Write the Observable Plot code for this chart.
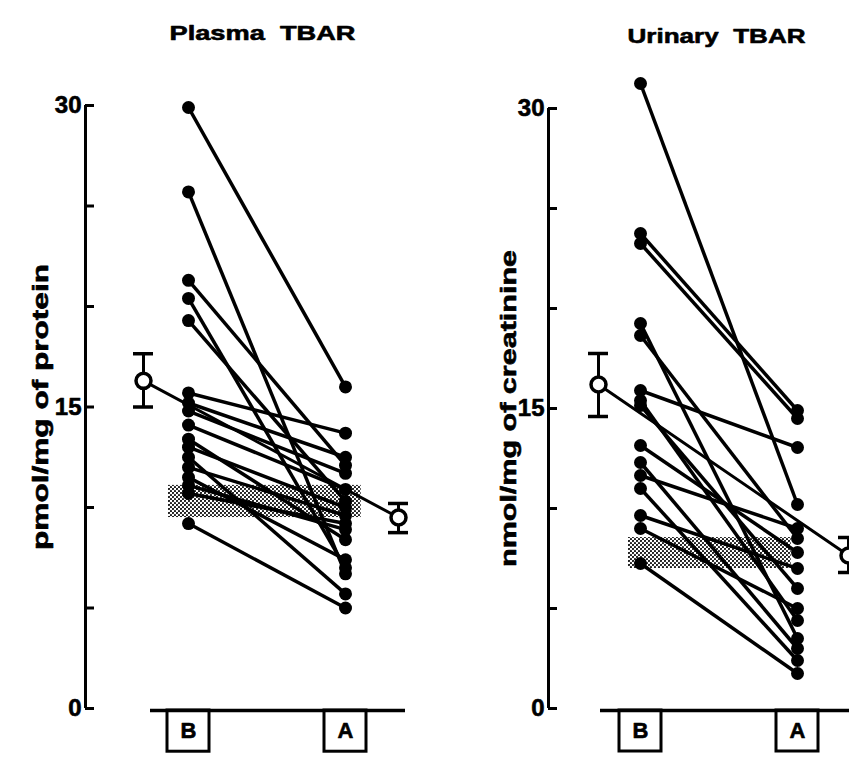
<!DOCTYPE html>
<html><head><meta charset="utf-8">
<script src="https://cdn.jsdelivr.net/npm/d3@7"></script>
<script src="https://cdn.jsdelivr.net/npm/@observablehq/plot@0.6"></script>
<style>
body{margin:0;background:#fff;}
#root{position:relative;width:849px;height:761px;overflow:hidden;background:#fff;}
#root svg{position:absolute;top:0;overflow:hidden;}
</style></head><body><div id="root"></div>
<script>
// ---- data ----
const phases = ["B", "A"];
const plasmaBefore = [29.9, 25.7, 21.3, 20.4, 19.3, 15.7, 15.2, 14.8, 14.1, 13.4, 13.0, 12.5, 12.0, 11.5, 11.1, 10.7, 9.2];
const plasmaAfter  = [16.0, 6.7, 12.1, 7.0, 10.3, 13.7, 12.5, 11.7, 10.9, 8.4, 10.0, 5.7, 9.6, 7.4, 8.9, 9.2, 5.0];
const plasmaMean   = [16.3, 9.5];
const plasmaLow    = [15.0, 8.75];
const plasmaHigh   = [17.65, 10.2];
const plasmaNormal = [9.5, 11.1];

const urinaryBefore = [31.25, 23.75, 23.25, 19.25, 18.65, 15.9, 15.4, 15.15, 13.15, 12.3, 11.65, 11.0, 9.65, 9.0, 7.25];
const urinaryAfter  = [10.2, 14.9, 14.5, 3.5, 8.5, 13.05, 4.4, 6.0, 7.8, 3.0, 9.0, 2.4, 7.0, 5.0, 1.75];
const urinaryMean   = [16.2, 7.65];
const urinaryLow    = [14.6, 6.8];
const urinaryHigh   = [17.75, 8.55];
const urinaryNormal = [7.0, 8.55];

const yTicks  = [0, 5, 10, 15, 20, 25, 30];
const yLabels = [0, 15, 30];
const titles  = ["Plasma  TBAR", "Urinary  TBAR"];
const yTitles = ["pmol/mg of protein", "nmol/mg of creatinine"];

// ---- layout ----
const FONT = "'Liberation Sans', Arial, Helvetica, sans-serif";
const pos = {B: 0, A: 1};
const PX = 157; // pixels between B and A
const heavy = {fontWeight: "bold", fill: "black", stroke: "black", strokeWidth: 0.6};

function panel(cfg) {
  const subjects = cfg.before.map((b, i) => ({b, a: cfg.after[i]}));
  const points = subjects.flatMap(d => [{x: pos.B, y: d.b}, {x: pos.A, y: d.a}]);
  const means = phases.map((p, i) => ({x: cfg.meanX[i], y: cfg.mean[i], lo: cfg.low[i], hi: cfg.high[i]}));
  const caps = means.flatMap(d => [d.lo, d.hi].map(v => ({y: v, x1: d.x - 10 / PX, x2: d.x + 10 / PX})));
  const ax = cfg.axisX;
  const base = -0.1;
  const boxH = 2.05;
  const hw = 21 / PX;

  const svg = Plot.plot({
    width: cfg.width,
    height: 761,
    marginTop: cfg.marginTop,
    marginBottom: 53,
    marginLeft: 0,
    marginRight: 0,
    x: {domain: [0, 1], range: [cfg.bx, cfg.bx + PX], axis: null},
    y: {domain: [0, 30], axis: null},
    style: {fontFamily: FONT, background: "white", color: "black"},
    marks: [
      Plot.rect([cfg.normal], {x1: cfg.bandX[0], x2: cfg.bandX[1], y1: d => d[0], y2: d => d[1], fill: `url(#${cfg.id})`}),
      Plot.line(means, {x: "x", y: "y", stroke: "black", strokeWidth: 3}),
      Plot.link(subjects, {x1: () => pos.B, x2: () => pos.A, y1: "b", y2: "a", stroke: "black", strokeWidth: 3.5}),
      Plot.dot(points, {x: "x", y: "y", r: 6.5, fill: "black", stroke: "none"}),
      Plot.ruleX(means, {x: "x", y1: "lo", y2: "hi", stroke: "black", strokeWidth: 3}),
      Plot.ruleY(caps, {y: "y", x1: "x1", x2: "x2", stroke: "black", strokeWidth: 3.5}),
      Plot.dot(means, {x: "x", y: "y", r: 7.5, fill: "white", stroke: "black", strokeWidth: 3.5}),
      // y axis
      Plot.ruleX([ax], {y1: 0, y2: 30, stroke: "black", strokeWidth: 3}),
      Plot.ruleY(yTicks, {y: d => d, x1: ax, x2: ax + 9 / PX, stroke: "black", strokeWidth: 3}),
      Plot.text(yLabels, {x: ax, y: d => d, text: d => String(d), dx: -4, textAnchor: "end", fontSize: 24, ...heavy}),
      Plot.text([cfg.ytitle], {x: cfg.ytitleX, y: 15, text: d => d, rotate: -90, fontSize: 22, ...heavy}),
      // x axis with boxed phase labels
      Plot.ruleY([base], {y: d => d, x1: cfg.baseX[0], x2: cfg.baseX[1], stroke: "black", strokeWidth: 3.5}),
      Plot.rect(phases, {x1: d => pos[d] - hw, x2: d => pos[d] + hw, y1: base, y2: base - boxH, fill: "none", stroke: "black", strokeWidth: 3}),
      Plot.text(phases, {x: d => pos[d], y: base - boxH / 2, text: d => d, fontSize: 22, ...heavy}),
      // title
      Plot.text([cfg.title], {x: cfg.titleX, frameAnchor: "top", dy: -80, text: d => d, fontSize: 21, ...heavy})
    ]
  });
  svg.style.left = cfg.left + "px";
  const defs = d3.select(svg).insert("defs", ":first-child");
  const pat = defs.append("pattern").attr("id", cfg.id).attr("width", 4).attr("height", 4).attr("patternUnits", "userSpaceOnUse");
  pat.append("rect").attr("width", 4).attr("height", 4).attr("fill", "white");
  pat.append("circle").attr("cx", 1).attr("cy", 1).attr("r", 1.1).attr("fill", "#111");
  pat.append("circle").attr("cx", 3).attr("cy", 3).attr("r", 1.1).attr("fill", "#111");
  d3.select(svg).selectAll("text").each(function () {
    const t = this.textContent;
    if (t === cfg.title) d3.select(this).attr("textLength", cfg.titleLen).attr("lengthAdjust", "spacingAndGlyphs");
    if (t === cfg.ytitle) d3.select(this).attr("textLength", cfg.ytitleLen).attr("lengthAdjust", "spacingAndGlyphs");
  });
  return svg;
}

const root = document.getElementById("root");
root.appendChild(panel({
  id: "stippleP", left: 0, width: 452, bx: 188, marginTop: 105,
  before: plasmaBefore, after: plasmaAfter, mean: plasmaMean, low: plasmaLow, high: plasmaHigh,
  normal: plasmaNormal, bandX: [-20 / PX, 1.1],
  meanX: [(143 - 188) / PX, (398 - 188) / PX],
  axisX: (85 - 188) / PX, baseX: [(150 - 188) / PX, (405 - 188) / PX],
  title: titles[0], titleX: (262 - 188) / PX, titleLen: 186,
  ytitle: yTitles[0], ytitleX: (40 - 188) / PX, ytitleLen: 286
}));
root.appendChild(panel({
  id: "stippleU", left: 452, width: 397, bx: 188, marginTop: 108,
  before: urinaryBefore, after: urinaryAfter, mean: urinaryMean, low: urinaryLow, high: urinaryHigh,
  normal: urinaryNormal, bandX: [-12 / PX, 0.96],
  meanX: [(598 - 640) / PX, (848 - 640) / PX],
  axisX: (548 - 640) / PX, baseX: [(600 - 640) / PX, (860 - 640) / PX],
  title: titles[1], titleX: (716 - 640) / PX, titleLen: 178,
  ytitle: yTitles[1], ytitleX: (508 - 640) / PX, ytitleLen: 317
}));
</script>
</body></html>
